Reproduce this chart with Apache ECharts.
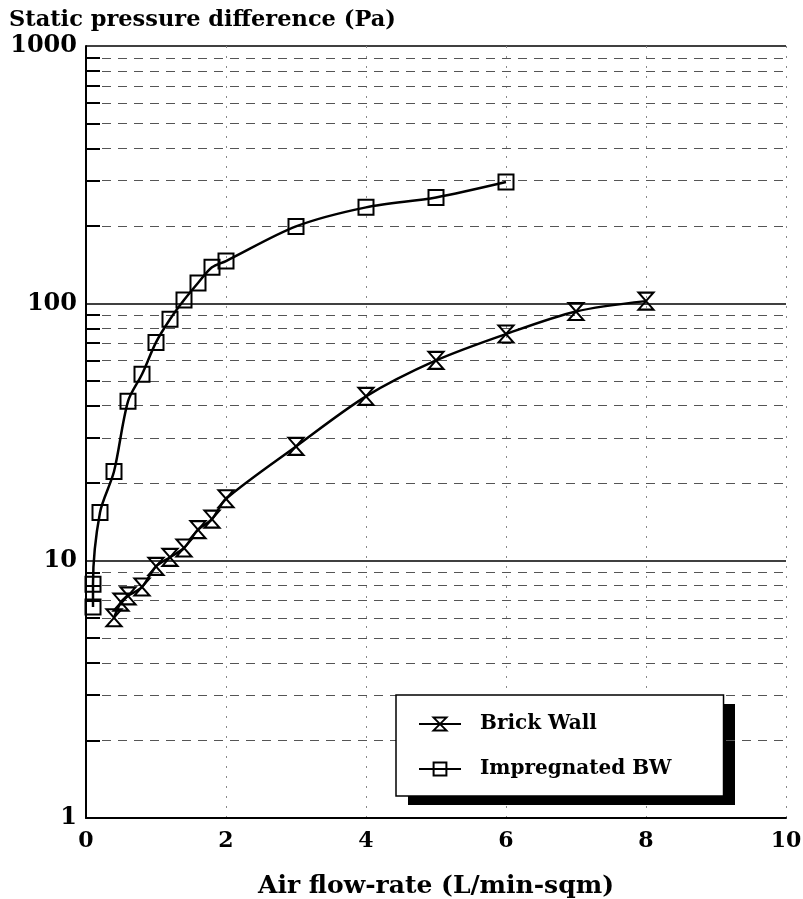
<!DOCTYPE html>
<html>
<head>
<meta charset="utf-8">
<script src="https://cdn.jsdelivr.net/npm/echarts@6/dist/echarts.min.js"></script>
<style>
  html, body { margin: 0; padding: 0; background: #fff; }
  #chart { width: 803px; height: 899px; }
</style>
</head>
<body>
<div id="chart"></div>
<script>
// air flow-rate (L/min-sqm) vs static pressure difference (Pa)
const brickX = [0.4, 0.5, 0.6, 0.8, 1.0, 1.2, 1.4, 1.6, 1.8, 2, 3, 4, 5, 6, 7, 8]
const brickY = [6.0, 6.9, 7.3, 7.9, 9.5, 10.3, 11.2, 13.2, 14.5, 17.4, 27.8, 43.5, 60, 76, 93, 102]
const impregX = [0.1, 0.1, 0.2, 0.4, 0.6, 0.8, 1.0, 1.2, 1.4, 1.6, 1.8, 2, 3, 4, 5, 6]
const impregY = [6.6, 8.1, 15.4, 22.2, 41.6, 53, 70.5, 86.7, 103, 120, 138, 146, 199, 236, 258, 296]

const decades = [1, 10, 100]
const minorSteps = [2, 3, 4, 5, 6, 7, 8, 9]
const xTicks = [0, 2, 4, 6, 8, 10]

const FONT = 'DejaVu Serif'
const hourglass = 'path://M0,0L10,0L0,12L10,12Z'

const minorValues = []
decades.forEach((d) => minorSteps.forEach((s) => minorValues.push(d * s)))

// dashed minor grid + short ticks on the left axis
const gridLines = minorValues.map((v) => ({
  yAxis: v,
  lineStyle: { color: '#555', width: 1, type: [9, 7] }
}))
const leftTicks = minorValues.map((v) => [
  { coord: [0, v], lineStyle: { color: '#000', width: 2, type: 'solid' } },
  { coord: [0.2, v] }
])

const chart = echarts.init(document.getElementById('chart'))

const option = {
  backgroundColor: '#fff',
  animation: false,
  title: {
    text: 'Static pressure difference (Pa)',
    left: 4,
    top: 4,
    textStyle: { fontFamily: FONT, fontWeight: 'bold', fontSize: 22.5, color: '#000' }
  },
  grid: { left: 86, right: 17, top: 46, bottom: 81, outerBoundsMode: 'none' },
  // black drop shadow of the legend box
  graphic: [
    {
      type: 'rect',
      left: 408,
      top: 704,
      z: 1,
      shape: { width: 327, height: 101 },
      style: { fill: '#000' }
    }
  ],
  legend: {
    orient: 'vertical',
    left: 396,
    top: 695,
    z: 10,
    padding: [19, 52, 17, 22],
    itemWidth: 42,
    itemHeight: 16,
    itemGap: 25,
    backgroundColor: '#fff',
    borderColor: '#000',
    borderWidth: 1.5,
    textStyle: {
      fontFamily: FONT,
      fontWeight: 'bold',
      fontSize: 20,
      color: '#000',
      padding: [0, 0, 0, 14]
    },
    data: ['Brick Wall', 'Impregnated BW']
  },
  xAxis: {
    type: 'value',
    min: 0,
    max: 10,
    interval: 2,
    name: 'Air flow-rate (L/min-sqm)',
    nameLocation: 'middle',
    nameGap: 56,
    nameTextStyle: { fontFamily: FONT, fontWeight: 'bold', fontSize: 25, color: '#000' },
    axisLine: { lineStyle: { color: '#000', width: 2 } },
    axisTick: { show: false },
    axisLabel: {
      fontFamily: FONT, fontWeight: 'bold', fontSize: 22, color: '#000', margin: 12,
      formatter: (v) => (xTicks.includes(v) ? String(v) : '')
    },
    splitLine: { show: true, lineStyle: { color: '#888', type: [2, 8], width: 1 } }
  },
  yAxis: {
    type: 'log',
    logBase: 10,
    min: 1,
    max: 1000,
    axisLine: { show: true, lineStyle: { color: '#000', width: 2 } },
    axisTick: { show: false },
    axisLabel: {
      fontFamily: FONT, fontWeight: 'bold', fontSize: 24, color: '#000', margin: 9,
      formatter: (v) => String(Math.round(v))
    },
    splitLine: { show: true, lineStyle: { color: '#000', width: 1.5 } }
  },
  series: [
    {
      name: 'Brick Wall',
      type: 'line',
      smooth: 0.3,
      data: brickX.map((x, i) => [x, brickY[i]]),
      symbol: hourglass,
      symbolSize: [15, 17],
      lineStyle: { color: '#000', width: 2.5 },
      itemStyle: { color: 'rgba(255,255,255,0)', borderColor: '#000', borderWidth: 2 },
      z: 5,
      markLine: {
        silent: true,
        symbol: 'none',
        label: { show: false },
        data: gridLines.concat(leftTicks)
      }
    },
    {
      name: 'Impregnated BW',
      type: 'line',
      smooth: 0.3,
      data: impregX.map((x, i) => [x, impregY[i]]),
      symbol: 'rect',
      symbolSize: 15,
      lineStyle: { color: '#000', width: 2.5 },
      itemStyle: { color: 'rgba(255,255,255,0)', borderColor: '#000', borderWidth: 2 },
      z: 5
    }
  ]
}

chart.setOption(option)
</script>
</body>
</html>
